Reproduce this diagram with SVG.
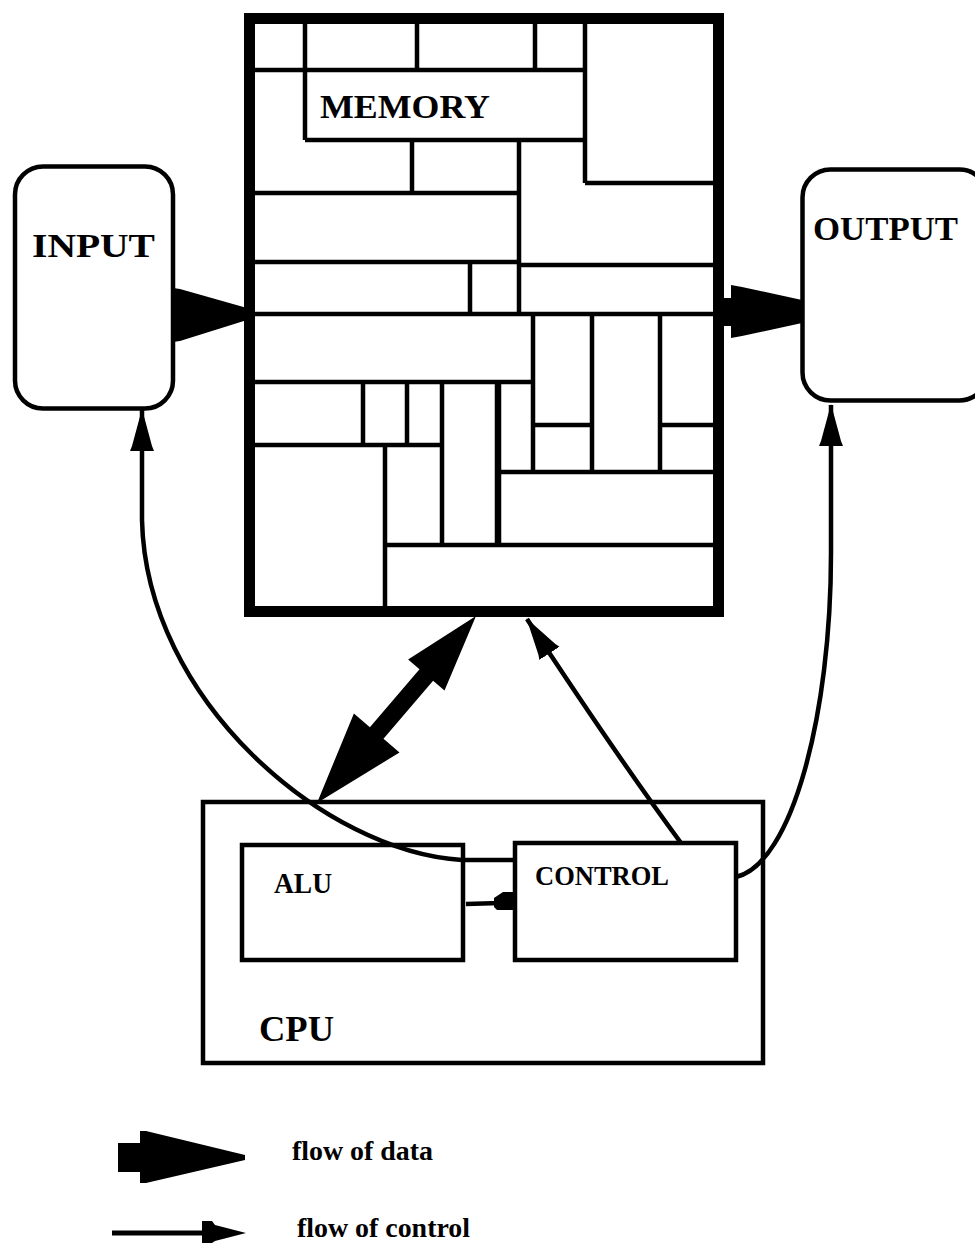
<svg xmlns="http://www.w3.org/2000/svg" width="975" height="1243" viewBox="0 0 975 1243">
<style>
.frame{fill:none;stroke:#000;stroke-width:11}
.grid{fill:none;stroke:#000;stroke-width:4.5}
.box{fill:none;stroke:#000;stroke-width:4.5}
.lbl{font-family:"Liberation Serif","Times New Roman",serif;font-weight:bold;fill:#000}
.conn{fill:none;stroke:#000;stroke-width:4.5}
.solid{fill:#000;stroke:none}
</style>
<defs>
<marker id="ctl" viewBox="0 -13 42 26" refX="41" refY="0" markerWidth="42" markerHeight="26" markerUnits="userSpaceOnUse" orient="auto">
<path d="M0,-12 L5,-10 L42,0 L5,10 L0,12 Z" fill="#000"/>
</marker>
</defs>
<rect width="975" height="1243" fill="#fff"/>

<g id="memory">
<rect class="frame" x="249.5" y="18.5" width="469" height="593"/>
<path class="grid" d="M255,70 H585 M305,23 V140 M417,23 V70 M535,23 V70 M585,23 V183 M585,183 H713 M305,140 H585 M412,140 V193 M519,140 V314 M255,193 H519 M255,262 H519 M519,265 H713 M470,262 V314 M255,314 H713 M255,382 H533 M533,314 V472 M592,314 V472 M660,314 V472 M533,425 H592 M660,425 H713 M498,472 H713 M363,382 V445 M407,382 V445 M442,382 V545 M498,382 V545 M255,445 H442 M385,445 V608 M385,545 H713"/>
<path class="grid" d="M498,382 V545" style="stroke-width:6.5"/>
<text class="lbl" x="320" y="118" font-size="34" textLength="170" lengthAdjust="spacingAndGlyphs">MEMORY</text>
</g>

<g id="input">
<rect class="box" x="15" y="166.5" width="158" height="242" rx="28"/>
<text class="lbl" x="32" y="257" font-size="34" textLength="123" lengthAdjust="spacingAndGlyphs">INPUT</text>
</g>

<g id="output">
<rect class="box" x="802.5" y="169.5" width="185" height="231" rx="28"/>
<text class="lbl" x="813" y="240" font-size="34" textLength="145" lengthAdjust="spacingAndGlyphs">OUTPUT</text>
</g>

<g id="cpu">
<rect class="box" x="203" y="802" width="560" height="261"/>
<text class="lbl" x="259" y="1041" font-size="36" textLength="75" lengthAdjust="spacingAndGlyphs">CPU</text>
</g>

<g id="alu">
<rect class="box" x="242" y="845" width="221" height="115"/>
<text class="lbl" x="274" y="893" font-size="29" textLength="58" lengthAdjust="spacingAndGlyphs">ALU</text>
</g>

<g id="control">
<rect class="box" x="515" y="843" width="221" height="117"/>
<text class="lbl" x="535" y="885" font-size="27" font-weight="normal" textLength="134" lengthAdjust="spacingAndGlyphs">CONTROL</text>
</g>

<g id="connectors">
<!-- data: input -> memory -->
<polygon class="solid" points="173,288 180,289 247,308 247,320 180,341 173,342"/>
<!-- data: memory -> output -->
<polygon class="solid" points="722,298 731,298 731,285 742,287 802,300 802,323 742,336 731,338 731,326 722,326"/>
<!-- data: memory <-> cpu -->
<polygon class="solid" points="476,616 444.5,690.6 433.1,680.8 383.5,738.8 399.5,752.5 317,803 353.9,713.5 369.9,727.2 419.5,669.2 408.1,659.4"/>
<!-- control: control -> input -->
<path class="conn" d="M515,860 L462,860 C325,852 146,700 142,520 L142,410" marker-end="url(#ctl)"/>
<!-- control: control -> output -->
<path class="conn" d="M736,877 C792,864 831,715 831,553 L831,405" marker-end="url(#ctl)"/>
<!-- control: control -> memory -->
<path class="conn" d="M681,843 Q614,752 527,619" marker-end="url(#ctl)"/>
<!-- control: control -> alu -->
<path class="conn" d="M466,904 L500,903"/>
<polygon class="solid" points="494,898 503,892 513,892 513,910 497,910 494,907"/>
</g>

<g id="legend">
<polygon class="solid" points="118,1143 140,1143 140,1131 146,1131 245,1155 245,1160 146,1183 140,1183 140,1172 118,1172"/>
<text class="lbl" x="292" y="1160" font-size="27" textLength="141" lengthAdjust="spacingAndGlyphs">flow of data</text>
<path class="conn" d="M112,1233 H205" style="stroke-width:5"/>
<polygon class="solid" points="202,1221 212,1221 215,1225 246,1233 215,1241 212,1243 202,1243"/>
<text class="lbl" x="297" y="1237" font-size="27" textLength="173" lengthAdjust="spacingAndGlyphs">flow of control</text>
</g>
</svg>
